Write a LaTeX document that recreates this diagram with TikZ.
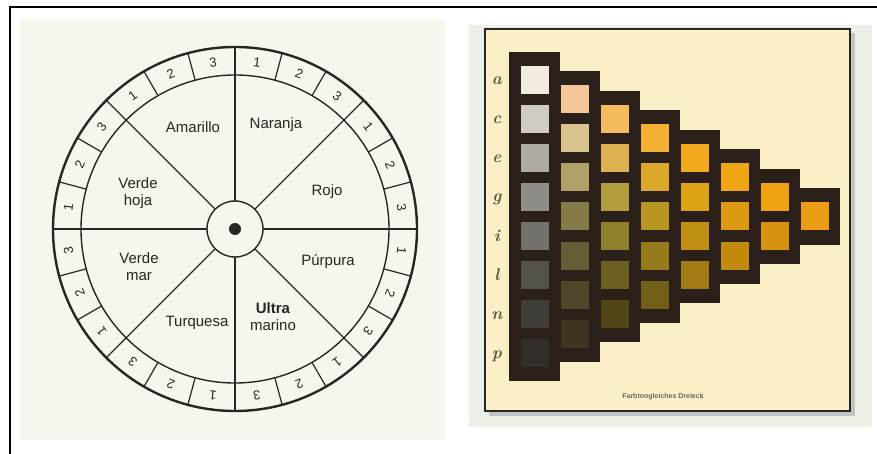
\documentclass[tikz,border=0pt]{standalone}
\usepackage{fontspec}
\usepackage{xcolor}
\usepackage{tikz}
\newfontfamily\wheelsans{Liberation Sans}
\definecolor{ink}{HTML}{262624}
\definecolor{paper}{HTML}{F7F6EE}
\definecolor{scanbg}{HTML}{EDF0E8}
\definecolor{card}{HTML}{FBEFC8}
\definecolor{chartdark}{HTML}{2B2019}
\definecolor{letter}{HTML}{6A5834}
% swatches, column by column (top to bottom)
\definecolor{sq10}{HTML}{F2EBDF}\definecolor{sq11}{HTML}{CFCBC3}\definecolor{sq12}{HTML}{AFABA4}\definecolor{sq13}{HTML}{8F8D88}
\definecolor{sq14}{HTML}{72716C}\definecolor{sq15}{HTML}{55524C}\definecolor{sq16}{HTML}{403C37}\definecolor{sq17}{HTML}{322E2A}
\definecolor{sq20}{HTML}{F4C79A}\definecolor{sq21}{HTML}{D8C28E}\definecolor{sq22}{HTML}{AFA168}\definecolor{sq23}{HTML}{857A48}
\definecolor{sq24}{HTML}{665C35}\definecolor{sq25}{HTML}{4F4528}\definecolor{sq26}{HTML}{3D3522}
\definecolor{sq30}{HTML}{F5BC5E}\definecolor{sq31}{HTML}{DDB052}\definecolor{sq32}{HTML}{B29E3E}\definecolor{sq33}{HTML}{8E7F2C}
\definecolor{sq34}{HTML}{6D5F20}\definecolor{sq35}{HTML}{524619}
\definecolor{sq40}{HTML}{F4B032}\definecolor{sq41}{HTML}{DBA82A}\definecolor{sq42}{HTML}{B99522}\definecolor{sq43}{HTML}{957A1A}
\definecolor{sq44}{HTML}{736018}
\definecolor{sq50}{HTML}{F2AA1C}\definecolor{sq51}{HTML}{DDA216}\definecolor{sq52}{HTML}{BF8E12}\definecolor{sq53}{HTML}{A07A12}
\definecolor{sq60}{HTML}{F0A614}\definecolor{sq61}{HTML}{DC9A12}\definecolor{sq62}{HTML}{C48A10}
\definecolor{sq70}{HTML}{EFA212}\definecolor{sq71}{HTML}{D89212}
\definecolor{sq80}{HTML}{E99C14}

\begin{document}
\begin{tikzpicture}[x=1pt,y=-1pt,
  sector/.style={font=\wheelsans\fontsize{15}{17}\selectfont,text=ink,align=center,inner sep=0pt},
  ringnum/.style={font=\wheelsans\fontsize{13}{13}\selectfont,text=ink,inner sep=0pt},
  swatch/.style={rectangle,minimum width=28pt,minimum height=28pt,inner sep=0pt},
  rowletter/.style={font=\fontsize{17}{17}\selectfont\bfseries\itshape,text=letter,inner sep=0pt,anchor=base}]
\useasboundingbox (0,0) rectangle (877,454);
\fill[white] (0,0) rectangle (877,454);
\draw[black,line width=2pt] (10,454) -- (10,7) -- (877,7);

% left: scanned page with the hue circle
\fill[paper] (20,20) rectangle (445,440);
\begin{scope}[shift={(235,229)},y=1pt]
\draw[ink,line width=2.4pt] (0,0) circle (182);
\draw[ink,line width=1.4pt] (0,0) circle (154);
\draw[ink,line width=1.4pt] (0,0) circle (28);
\fill[ink] (0,0) circle (6);
\foreach \a in {0,15,...,345} \draw[ink,line width=1.2pt] (\a:154) -- (\a:182);
\foreach \a in {0,45,...,315} \draw[ink,line width=1.2pt] (\a:28) -- (\a:154);
\node[sector] (amarillo) at (-42,102) {Amarillo};
\node[sector] (naranja) at (41,104) {Naranja};
\node[sector] (verdehoja) at (-97,36) {Verde\\hoja};
\node[sector] (rojo) at (92,37) {Rojo};
\node[sector] (verdemar) at (-96,-38) {Verde\\mar};
\node[sector] (purpura) at (93,-33) {Púrpura};
\node[sector] (turquesa) at (-38,-94) {Turquesa};
\node[sector] (ultramarino) at (38,-88) {\textbf{Ultra}\\marino};
\node[ringnum,rotate=-7.5] (n0) at (82.5:168) {1};
\node[ringnum,rotate=-22.5] (n1) at (67.5:168) {2};
\node[ringnum,rotate=-37.5] (n2) at (52.5:168) {3};
\node[ringnum,rotate=-52.5] (n3) at (37.5:168) {1};
\node[ringnum,rotate=-67.5] (n4) at (22.5:168) {2};
\node[ringnum,rotate=-82.5] (n5) at (7.5:168) {3};
\node[ringnum,rotate=-97.5] (n6) at (-7.5:168) {1};
\node[ringnum,rotate=-112.5] (n7) at (-22.5:168) {2};
\node[ringnum,rotate=-127.5] (n8) at (-37.5:168) {3};
\node[ringnum,rotate=-142.5] (n9) at (-52.5:168) {1};
\node[ringnum,rotate=-157.5] (n10) at (-67.5:168) {2};
\node[ringnum,rotate=-172.5] (n11) at (-82.5:168) {3};
\node[ringnum,rotate=-187.5] (n12) at (-97.5:168) {1};
\node[ringnum,rotate=-202.5] (n13) at (-112.5:168) {2};
\node[ringnum,rotate=-217.5] (n14) at (-127.5:168) {3};
\node[ringnum,rotate=-232.5] (n15) at (-142.5:168) {1};
\node[ringnum,rotate=-247.5] (n16) at (-157.5:168) {2};
\node[ringnum,rotate=-262.5] (n17) at (-172.5:168) {3};
\node[ringnum,rotate=82.5] (n18) at (172.5:168) {1};
\node[ringnum,rotate=67.5] (n19) at (157.5:168) {2};
\node[ringnum,rotate=52.5] (n20) at (142.5:168) {3};
\node[ringnum,rotate=37.5] (n21) at (127.5:168) {1};
\node[ringnum,rotate=22.5] (n22) at (112.5:168) {2};
\node[ringnum,rotate=7.5] (n23) at (97.5:168) {3};
\end{scope}

% right: photo of the colour triangle card
\fill[scanbg] (469,25) rectangle (872,427);
\fill[black!40,opacity=0.5] (489,33) rectangle (855,416);
\draw[black!85,line width=1.2pt,fill=card] (485,29) rectangle (850,411);
\fill[chartdark] (509,52) rectangle (560,381);
\fill[chartdark] (549,71.5) rectangle (600,361.5);
\fill[chartdark] (589,91) rectangle (640,342);
\fill[chartdark] (629,110.5) rectangle (680,322.5);
\fill[chartdark] (669,130) rectangle (720,303);
\fill[chartdark] (709,149.5) rectangle (760,283.5);
\fill[chartdark] (749,169) rectangle (800,264);
\fill[chartdark] (789,188.5) rectangle (840,244.5);
\node[swatch,fill=sq10] (s10) at (535,80) {};
\node[swatch,fill=sq11] (s11) at (535,119) {};
\node[swatch,fill=sq12] (s12) at (535,158) {};
\node[swatch,fill=sq13] (s13) at (535,197) {};
\node[swatch,fill=sq14] (s14) at (535,236) {};
\node[swatch,fill=sq15] (s15) at (535,275) {};
\node[swatch,fill=sq16] (s16) at (535,314) {};
\node[swatch,fill=sq17] (s17) at (535,353) {};
\node[swatch,fill=sq20] (s20) at (575,99.5) {};
\node[swatch,fill=sq21] (s21) at (575,138.5) {};
\node[swatch,fill=sq22] (s22) at (575,177.5) {};
\node[swatch,fill=sq23] (s23) at (575,216.5) {};
\node[swatch,fill=sq24] (s24) at (575,255.5) {};
\node[swatch,fill=sq25] (s25) at (575,294.5) {};
\node[swatch,fill=sq26] (s26) at (575,333.5) {};
\node[swatch,fill=sq30] (s30) at (615,119) {};
\node[swatch,fill=sq31] (s31) at (615,158) {};
\node[swatch,fill=sq32] (s32) at (615,197) {};
\node[swatch,fill=sq33] (s33) at (615,236) {};
\node[swatch,fill=sq34] (s34) at (615,275) {};
\node[swatch,fill=sq35] (s35) at (615,314) {};
\node[swatch,fill=sq40] (s40) at (655,138.5) {};
\node[swatch,fill=sq41] (s41) at (655,177.5) {};
\node[swatch,fill=sq42] (s42) at (655,216.5) {};
\node[swatch,fill=sq43] (s43) at (655,255.5) {};
\node[swatch,fill=sq44] (s44) at (655,294.5) {};
\node[swatch,fill=sq50] (s50) at (695,158) {};
\node[swatch,fill=sq51] (s51) at (695,197) {};
\node[swatch,fill=sq52] (s52) at (695,236) {};
\node[swatch,fill=sq53] (s53) at (695,275) {};
\node[swatch,fill=sq60] (s60) at (735,177.5) {};
\node[swatch,fill=sq61] (s61) at (735,216.5) {};
\node[swatch,fill=sq62] (s62) at (735,255.5) {};
\node[swatch,fill=sq70] (s70) at (775,197) {};
\node[swatch,fill=sq71] (s71) at (775,236) {};
\node[swatch,fill=sq80] (s80) at (815,216.5) {};
\node[rowletter] (la) at (497,85) {a};
\node[rowletter] (lc) at (497,124) {c};
\node[rowletter] (le) at (497,163) {e};
\node[rowletter] (lg) at (497,202) {g};
\node[rowletter] (li) at (497,241) {i};
\node[rowletter] (ll) at (497,280) {l};
\node[rowletter] (ln) at (497,319) {n};
\node[rowletter] (lp) at (497,358) {p};
\node[font=\wheelsans\fontsize{7}{7}\selectfont\bfseries,text=black!60,inner sep=0pt] (caption) at (663,397) {Farbtongleiches Dreieck};
\end{tikzpicture}
\end{document}
